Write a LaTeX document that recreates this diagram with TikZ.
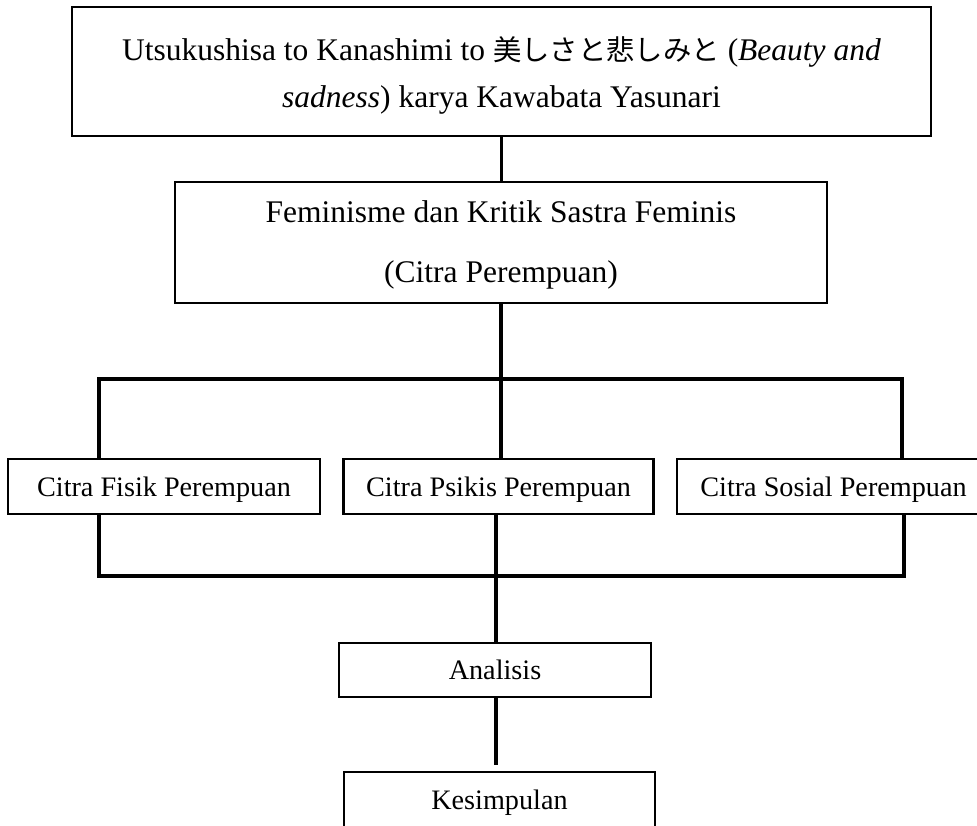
\documentclass[tikz,border=0pt]{standalone}
\usepackage{fontspec}
\setmainfont{Liberation Serif}
\newfontfamily\cjk[Scale=0.9]{Noto Sans CJK JP}
\newcommand{\topstrut}{\rule[-7pt]{0pt}{38pt}}
\newcommand{\femstrut}{\rule[-7pt]{0pt}{33pt}}
\tikzset{
  bigbox/.style={draw, line width=2.2pt, inner sep=0pt, align=center},
  smallbox/.style={draw, line width=2.2pt, inner sep=0pt, text height=26pt, text depth=7pt,
    font=\fontsize{28.2}{34}\selectfont},
  conn/.style={line width=3.2pt, line cap=rect, line join=miter}
}
\begin{document}
\begin{tikzpicture}[x=1pt, y=-1pt]
\useasboundingbox (0,0) rectangle (977,825);
\clip (0,0) rectangle (977,825);
% boxes
\node[bigbox, minimum width=859pt, minimum height=129pt, font=\fontsize{31.5}{47}\selectfont]
  (top) at (501.5,71.5)
  {\topstrut Utsukushisa to Kanashimi to {\cjk 美しさと悲しみと} (\textit{Beauty and}\\
   \topstrut\textit{sadness}) karya Kawabata Yasunari};
\node[bigbox, minimum width=652pt, minimum height=121pt, font=\fontsize{31.5}{60}\selectfont]
  (fem) at (501,242.5)
  {\femstrut Feminisme dan Kritik Sastra Feminis\\ \femstrut(Citra Perempuan)};
\node[smallbox, minimum width=312pt, minimum height=55pt] (fisik) at (164,486.5) {Citra Fisik Perempuan};
\node[smallbox, minimum width=310pt, minimum height=55pt] (psikis) at (498.5,486.5) {Citra Psikis Perempuan};
\node[smallbox, minimum width=313pt, minimum height=55pt] (sosial) at (833.5,486.5) {Citra Sosial Perempuan};
\node[smallbox, minimum width=312pt, minimum height=54pt] (ana) at (495,670) {Analisis};
\node[smallbox, minimum width=311pt, minimum height=55pt] (kes) at (499.5,799.5) {Kesimpulan};
% helper coordinates
\coordinate (tl) at (99,379);
\coordinate (tr) at (902,379);
\coordinate (bl) at (99,576);
\coordinate (br) at (904,576);
\coordinate (kend) at (496,763);
% connectors
\draw[conn] (top.south) -- (top.south |- fem.north);
\draw[conn] (fem.south) -- (fem.south |- psikis.north);
\draw[conn] (tl) -- (tr);
\draw[conn] (tl) -- (tl |- fisik.north);
\draw[conn] (tr) -- (tr |- sosial.north);
\draw[conn] (bl |- fisik.south) -- (bl) -- (br) -- (br |- sosial.south);
\draw[conn] (kend |- psikis.south) -- (kend |- ana.north);
\draw[conn] (kend |- ana.south) -- (kend);
\end{tikzpicture}
\end{document}
